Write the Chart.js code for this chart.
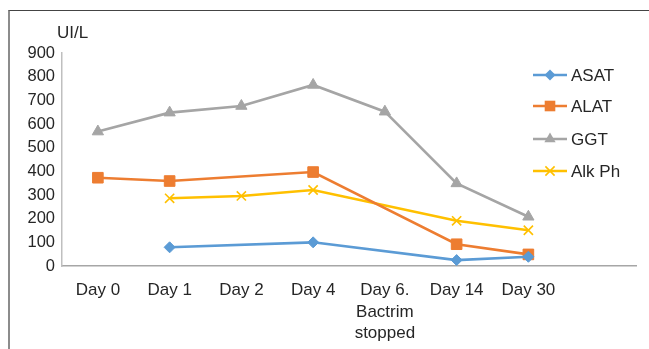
<!DOCTYPE html>
<html>
<head>
<meta charset="utf-8">
<script src="https://cdn.jsdelivr.net/npm/chart.js@4/dist/chart.umd.min.js"></script>
<style>
  html, body { margin: 0; padding: 0; background: #fff; }
  #wrap { position: relative; width: 649px; height: 349px; }
  #frame { position: absolute; left: 8px; top: 10px; right: 0; bottom: 0;
           border-top: 1px solid #444; border-left: 2px solid #8c8c8c; pointer-events: none; }
  canvas { position: absolute; left: 0; top: 0; }
</style>
</head>
<body>
<div id="wrap">
  <canvas id="c" width="649" height="349"></canvas>
  <div id="frame"></div>
</div>
<script>
// ---- data ----
const categories = ["Day 0", "Day 1", "Day 2", "Day 4", ["Day 6.", "Bactrim", "stopped"], "Day 14", "Day 30", ""];
const asat  = [null,  79, null, 100, null,  25,  39, null];
const alat  = [ 373, 359, null, 397, null,  92,  49, null];
const ggt   = [ 568, 648,  676, 765,  652, 349, 208, null];
const alkPh = [null, 286,  296, 321, null, 191, 151, null];
const yTicks = [0, 100, 200, 300, 400, 500, 600, 700, 800, 900];
const unitLabel = "UI/L";

const FONT = "'Liberation Sans', Arial, sans-serif";
const colors = { asat: "#5B9BD5", alat: "#ED7D31", ggt: "#A5A5A5", alk: "#FFC000" };

function series(label, data, color, style, radius, borderW) {
  return {
    label, data, borderColor: color, backgroundColor: color,
    pointBackgroundColor: color, pointBorderColor: color,
    pointStyle: style, pointRadius: radius, pointHoverRadius: radius,
    pointBorderWidth: borderW, borderWidth: 2.6, spanGaps: true, tension: 0
  };
}

function drawMarker(ctx, style, x, y, r, color) {
  ctx.save();
  ctx.fillStyle = color; ctx.strokeStyle = color;
  ctx.beginPath();
  if (style === 'rect') {
    const s = r * Math.SQRT1_2;
    ctx.rect(x - s, y - s, 2 * s, 2 * s); ctx.fill();
  } else if (style === 'rectRot') {
    ctx.moveTo(x, y - r); ctx.lineTo(x + r, y); ctx.lineTo(x, y + r); ctx.lineTo(x - r, y); ctx.closePath(); ctx.fill();
  } else if (style === 'triangle') {
    const a = r * Math.sqrt(3) / 2;
    ctx.moveTo(x, y - r); ctx.lineTo(x + a, y + r / 2); ctx.lineTo(x - a, y + r / 2); ctx.closePath(); ctx.fill();
  } else if (style === 'crossRot') {
    const s = r * Math.SQRT1_2;
    ctx.lineWidth = 1.6;
    ctx.moveTo(x - s, y - s); ctx.lineTo(x + s, y + s);
    ctx.moveTo(x + s, y - s); ctx.lineTo(x - s, y + s); ctx.stroke();
  }
  ctx.restore();
}

const overlay = {
  id: 'overlay',
  afterDraw(chart) {
    const ctx = chart.ctx;
    ctx.save();
    ctx.fillStyle = '#262626';
    ctx.font = '17px ' + FONT;
    ctx.textBaseline = 'middle';
    ctx.textAlign = 'left';
    ctx.fillText(unitLabel, 57, 33);
    // legend
    const ys = [75, 106, 139, 171];
    chart.data.datasets.forEach((ds, i) => {
      const y = ys[i];
      ctx.strokeStyle = ds.borderColor; ctx.lineWidth = 2.6;
      ctx.beginPath(); ctx.moveTo(533, y); ctx.lineTo(567, y); ctx.stroke();
      drawMarker(ctx, ds.pointStyle, 550, y, ds.pointRadius, ds.borderColor);
      ctx.fillStyle = '#262626';
      ctx.fillText(ds.label, 571, y + 1);
    });
    ctx.restore();
  }
};

new Chart(document.getElementById('c'), {
  type: 'line',
  data: {
    labels: categories,
    datasets: [
      series("ASAT", asat, colors.asat, 'rectRot', 5.5, 1),
      series("ALAT", alat, colors.alat, 'rect', 7.5, 1),
      series("GGT", ggt, colors.ggt, 'triangle', 6.5, 1),
      series("Alk Ph", alkPh, colors.alk, 'crossRot', 6.5, 1.6)
    ]
  },
  options: {
    responsive: false,
    animation: false,
    events: [],
    layout: { padding: { left: 0, right: 13, top: 53, bottom: 0 } },
    plugins: { legend: { display: false }, tooltip: { enabled: false } },
    scales: {
      x: {
        offset: true,
        grid: { display: false, drawTicks: false, offset: true },
        border: { display: true, color: '#a6a6a6', width: 1.5 },
        ticks: { autoSkip: false, maxRotation: 0, minRotation: 0, padding: 14, color: '#262626',
                 font: { family: FONT, size: 17, lineHeight: 1.25 } },
        afterFit(scale) { scale.height = 83; }
      },
      y: {
        min: 0, max: 900,
        grid: { display: false, drawTicks: false },
        border: { display: true, color: '#bfbfbf', width: 1.5 },
        afterBuildTicks(scale) { scale.ticks = yTicks.map(v => ({ value: v })); },
        ticks: { padding: 7, color: '#262626', font: { family: FONT, size: 16.5 } },
        afterFit(scale) { scale.width = 62; }
      }
    }
  },
  plugins: [overlay]
});
</script>
</body>
</html>
